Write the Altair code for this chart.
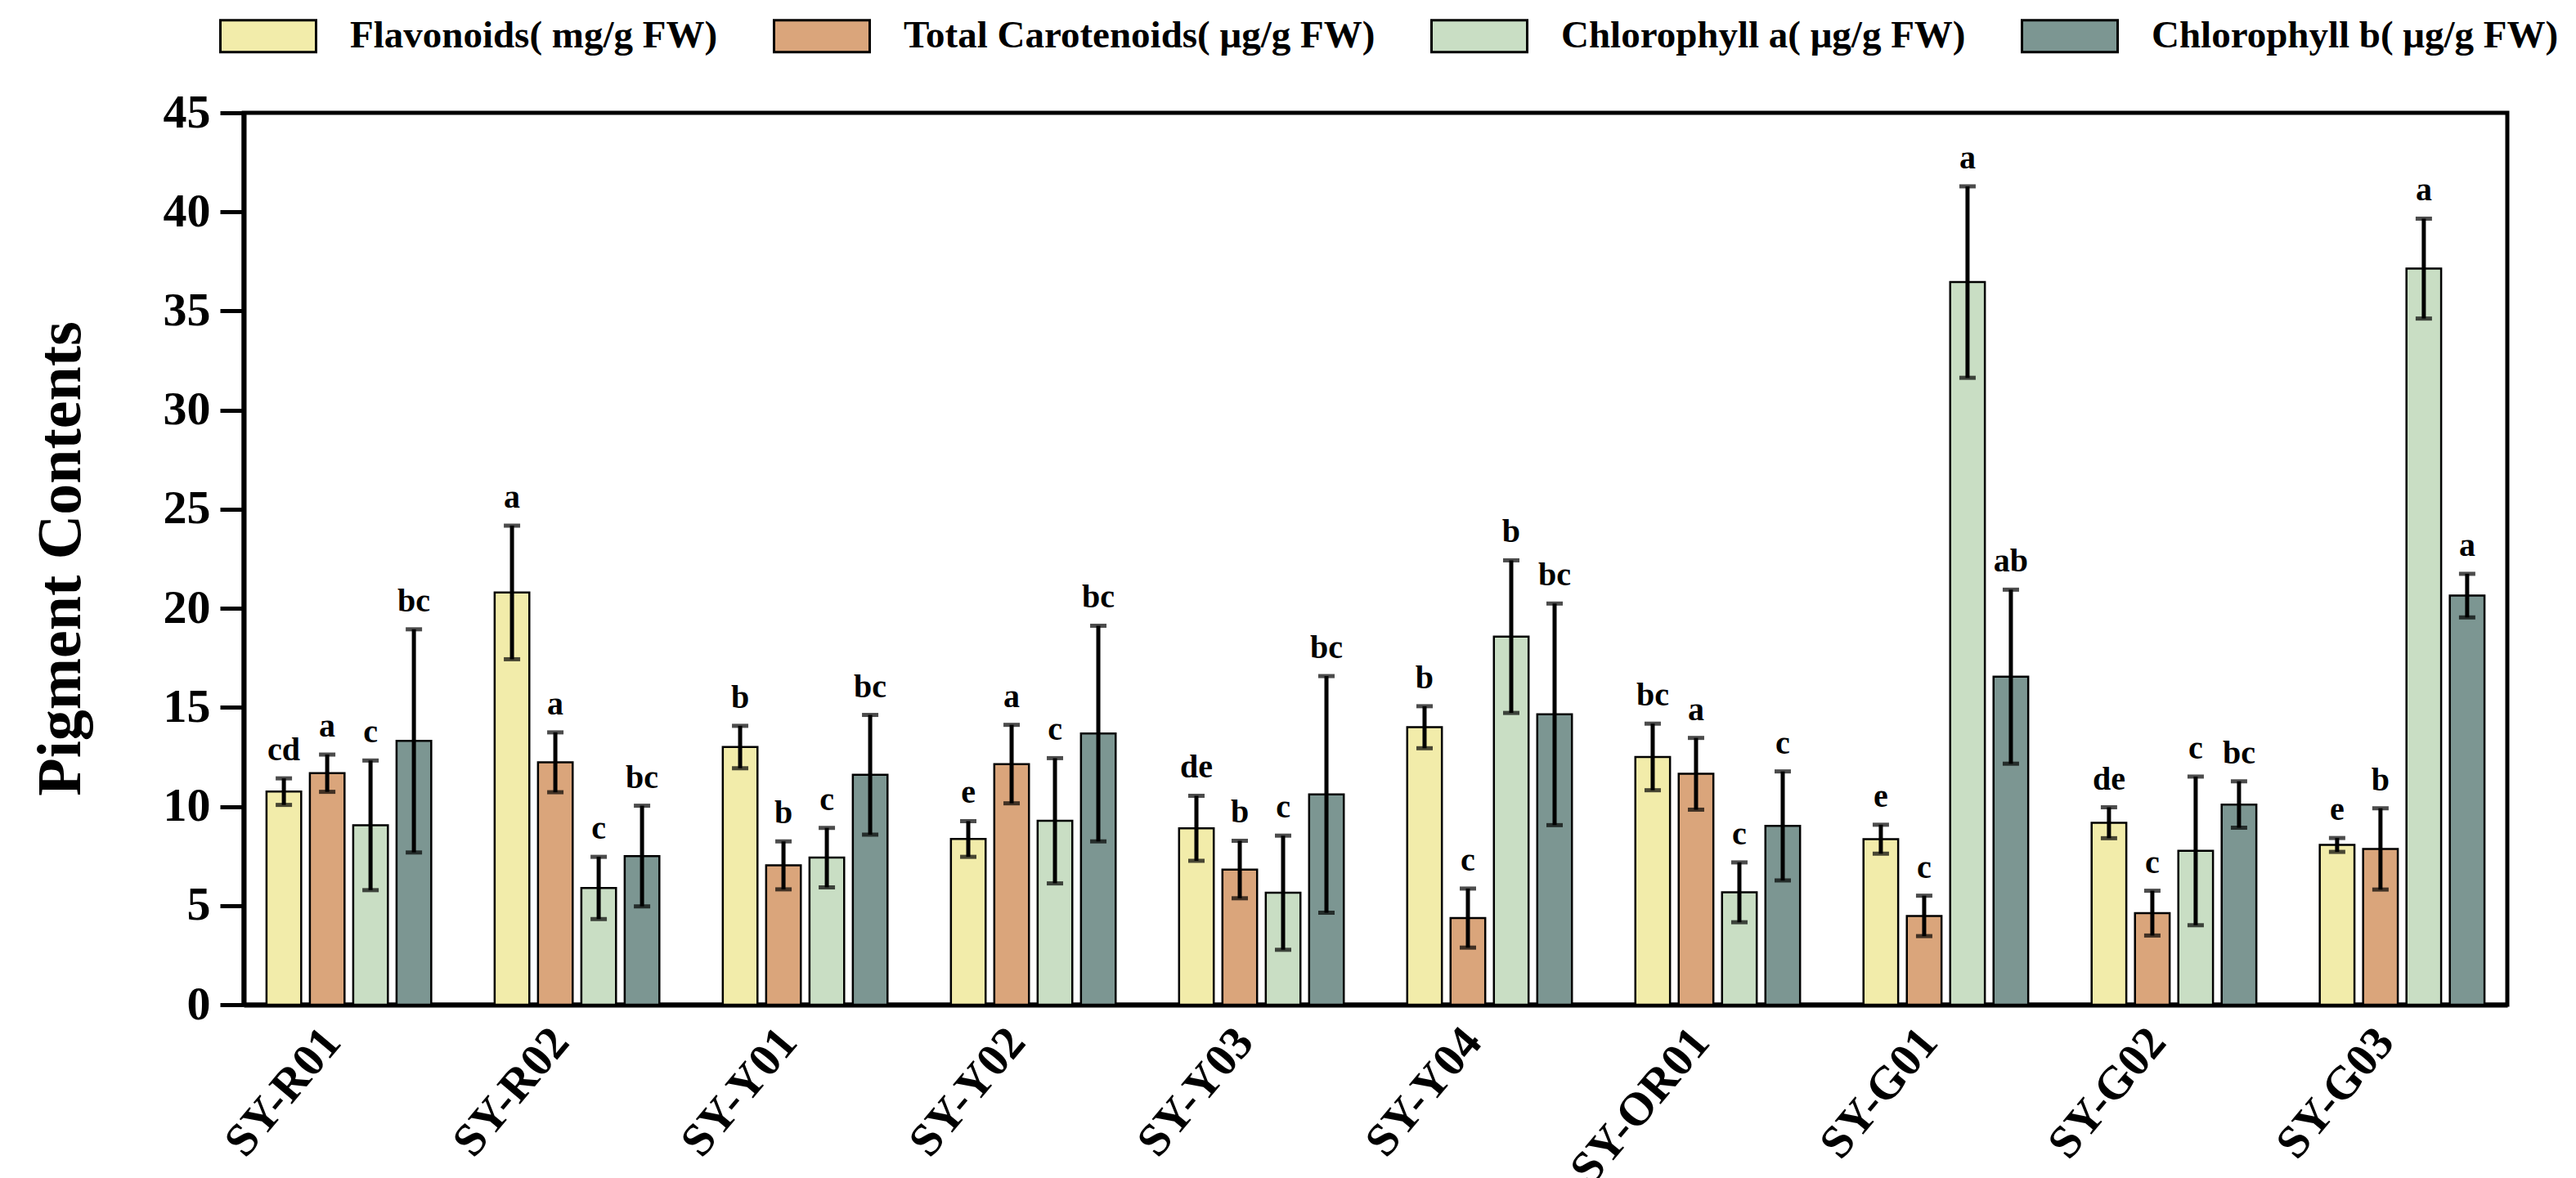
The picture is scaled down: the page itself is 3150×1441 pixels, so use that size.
import altair as alt
import pandas as pd

# Sample names along the x axis
samples = ["SY-R01", "SY-R02", "SY-Y01", "SY-Y02", "SY-Y03",
           "SY-Y04", "SY-OR01", "SY-G01", "SY-G02", "SY-G03"]

# Pigment series (legend labels)
pigments = [
    "Flavonoids( mg/g FW)",
    "Total Carotenoids( μg/g FW)",
    "Chlorophyll a( μg/g FW)",
    "Chlorophyll b( μg/g FW)",
]
colors = ["#F2ECAA", "#DAA57B", "#C9DEC4", "#7C9692"]

# Means, error values and significance letters per pigment
flav_mean = [10.75, 20.8, 13.0, 8.36, 8.9, 14.0, 12.5, 8.35, 9.18, 8.06]
flav_err = [0.67, 3.37, 1.07, 0.9, 1.64, 1.06, 1.68, 0.73, 0.78, 0.35]
flav_sig = ["cd", "a", "b", "e", "de", "b", "bc", "e", "de", "e"]

car_mean = [11.68, 12.23, 7.03, 12.14, 6.82, 4.37, 11.65, 4.48, 4.62, 7.86]
car_err = [0.94, 1.51, 1.21, 1.98, 1.45, 1.49, 1.81, 1.02, 1.13, 2.05]
car_sig = ["a", "a", "b", "a", "b", "c", "a", "c", "c", "b"]

chla_mean = [9.05, 5.89, 7.42, 9.28, 5.65, 18.57, 5.67, 36.46, 7.76, 37.14]
chla_err = [3.27, 1.57, 1.5, 3.16, 2.88, 3.85, 1.51, 4.83, 3.75, 2.52]
chla_sig = ["c", "c", "c", "c", "c", "b", "c", "a", "c", "a"]

chlb_mean = [13.31, 7.5, 11.6, 13.68, 10.61, 14.65, 9.02, 16.55, 10.1, 20.64]
chlb_err = [5.63, 2.54, 3.02, 5.44, 5.97, 5.59, 2.75, 4.39, 1.17, 1.1]
chlb_sig = ["bc", "bc", "bc", "bc", "bc", "bc", "c", "ab", "bc", "a"]

y_ticks = [0, 5, 10, 15, 20, 25, 30, 35, 40, 45]

series = [
    (flav_mean, flav_err, flav_sig),
    (car_mean, car_err, car_sig),
    (chla_mean, chla_err, chla_sig),
    (chlb_mean, chlb_err, chlb_sig),
]

rows = []
for name, (means, errs, sigs) in zip(pigments, series):
    for s, m, e, g in zip(samples, means, errs, sigs):
        rows.append({"sample": s, "pigment": name, "mean": m,
                     "lo": m - e, "hi": m + e, "sig": g})
df = pd.DataFrame(rows)

FONT = "Liberation Serif"

x_enc = alt.X(
    "sample:N", sort=samples, title=None,
    scale=alt.Scale(paddingInner=0.278, paddingOuter=0.1),
    axis=alt.Axis(labelAngle=-50, labelAlign="right", labelBaseline="top",
                  labelFont=FONT, labelFontSize=57, labelFontWeight="bold",
                  labelColor="black", labelPadding=18, labelLimit=0,
                  labelOffset=-42,
                  ticks=False, domainColor="black", domainWidth=6),
)
xo_enc = alt.XOffset("pigment:N", sort=pigments,
                     scale=alt.Scale(paddingInner=0.2, paddingOuter=0))
y_scale = alt.Scale(domain=[0, 45], nice=False, zero=True)

base = alt.Chart(df).encode(x=x_enc, xOffset=xo_enc)

bars = base.mark_bar(stroke="black", strokeWidth=2.5).encode(
    y=alt.Y(
        "mean:Q", scale=y_scale, title="Pigment Contents",
        axis=alt.Axis(values=y_ticks, grid=False, tickSize=29, tickWidth=5,
                      tickColor="black", domainColor="black", domainWidth=6,
                      labelFont=FONT, labelFontSize=58, labelFontWeight="bold",
                      labelColor="black", labelPadding=12,
                      titleFont=FONT, titleFontSize=76, titleFontWeight="bold",
                      titleColor="black", titleAngle=270, titleAlign="center",
                      titleBaseline="alphabetic", titleX=-201, titleY=545),
    ),
    color=alt.Color(
        "pigment:N", sort=pigments,
        scale=alt.Scale(domain=pigments, range=colors),
        legend=alt.Legend(
            title=None, orient="none", direction="horizontal", columns=4,
            legendX=-30, legendY=-154, padding=0,
            symbolType="M-1,-0.3333H1V0.3333H-1Z", symbolSize=13689,
            symbolStrokeColor="black", symbolStrokeWidth=3, symbolOpacity=1,
            labelFont=FONT, labelFontSize=47, labelFontWeight="bold",
            labelColor="black", labelOffset=40, columnPadding=62,
            labelLimit=0,
        ),
    ),
)

err_line = base.mark_rule(color="black", strokeWidth=5).encode(
    y=alt.Y("lo:Q", scale=y_scale), y2="hi:Q")
cap_hi = base.mark_tick(color="black", size=20, thickness=5).encode(
    y=alt.Y("hi:Q", scale=y_scale))
cap_lo = base.mark_tick(color="black", size=20, thickness=5).encode(
    y=alt.Y("lo:Q", scale=y_scale))

letters = base.mark_text(font=FONT, fontSize=40, fontWeight="bold",
                         color="black", baseline="alphabetic", dy=-22).encode(
    y=alt.Y("hi:Q", scale=y_scale), text="sig:N")

chart = alt.layer(bars, err_line, cap_hi, cap_lo, letters).properties(
    width=2768, height=1091,
    autosize=alt.AutoSizeParams(type="none"),
    padding={"left": 298, "top": 138, "right": 84, "bottom": 212},
    background="white",
).configure_view(stroke="black", strokeWidth=5)

chart.save("out.html", embed_options={"renderer": "svg", "actions": False})
